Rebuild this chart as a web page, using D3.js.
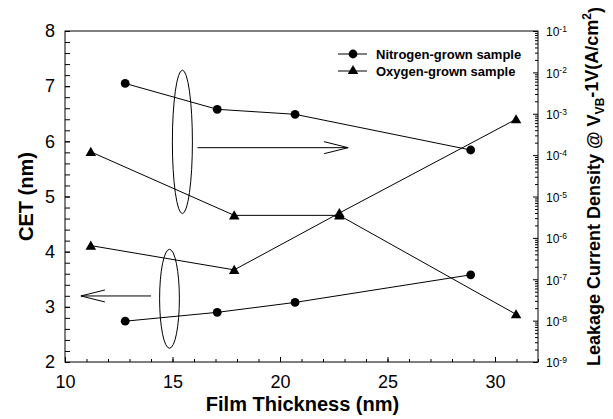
<!DOCTYPE html>
<html>
<head>
<meta charset="utf-8">
<script src="https://cdn.jsdelivr.net/npm/d3@7"></script>
<style>
  body { margin: 0; background: #fff; }
  svg { font-family: "Liberation Sans", Arial, sans-serif; }
</style>
</head>
<body>
<svg id="chart" width="613" height="419"></svg>
<script>
const WIDTH = 613
const HEIGHT = 419

// film thickness (nm)
const nitrogenThickness = [12.8, 17.08, 20.7, 28.87]
const oxygenThickness = [11.2, 17.87, 22.76, 30.98]
// CET (nm), left axis
const nitrogenCET = [2.74, 2.90, 3.08, 3.58]
const oxygenCET = [4.11, 3.67, 4.70, 6.40]
// leakage current density (A/cm2), right axis
const nitrogenLeakage = [5.4e-3, 1.28e-3, 9.7e-4, 1.33e-4]
const oxygenLeakage = [1.2e-4, 3.5e-6, 3.5e-6, 1.42e-8]

const seriesNames = ['Nitrogen-grown sample', 'Oxygen-grown sample']
const xTicks = [10, 15, 20, 25, 30]
const leftTicks = [2, 3, 4, 5, 6, 7, 8]
const rightExponents = [-9, -8, -7, -6, -5, -4, -3, -2, -1]

let padding = { left: 65, top: 31, right: 538, bottom: 362 }
const svg = d3.select('#chart')

const xAxis = d3.scaleLinear().domain([10, 32]).range([padding.left, padding.right])
const yLeft = d3.scaleLinear().domain([2, 8]).range([padding.bottom, padding.top])
const yRight = d3.scaleLog().domain([1e-9, 1e-1]).range([padding.bottom, padding.top])

// frame
svg.append('rect')
    .attr('x', padding.left).attr('y', padding.top)
    .attr('width', padding.right - padding.left)
    .attr('height', padding.bottom - padding.top)
    .attr('fill', 'none').attr('stroke', '#000').attr('stroke-width', 1)

function styleAxis(g, size) {
    g.select('.domain').remove()
    g.selectAll('line').attr('stroke', '#000')
    g.selectAll('text').attr('font-size', size).attr('fill', '#000')
    g.attr('font-family', null)
}

// bottom axis: minor + major
svg.append('g')
    .attr('transform', `translate(0, ${padding.bottom})`)
    .call(d3.axisBottom(xAxis).tickValues(d3.range(10, 33, 1)).tickSize(-3).tickFormat(''))
    .call(g => styleAxis(g, 18))
svg.append('g')
    .attr('transform', `translate(0, ${padding.bottom})`)
    .call(d3.axisBottom(xAxis).tickValues(xTicks).tickSize(-5).tickPadding(13))
    .call(g => styleAxis(g, 18))

// left axis
svg.append('g')
    .attr('transform', `translate(${padding.left}, 0)`)
    .call(d3.axisLeft(yLeft).tickValues(d3.range(0, 31).map(i => 2 + i * 0.2)).tickSize(-5).tickFormat(''))
    .call(g => styleAxis(g, 18))
svg.append('g')
    .attr('transform', `translate(${padding.left}, 0)`)
    .call(d3.axisLeft(yLeft).tickValues(leftTicks).tickSize(-5).tickPadding(10).tickFormat(d3.format('d')))
    .call(g => styleAxis(g, 18))

// right axis (log)
let minorLog = []
rightExponents.slice(0, -1).forEach(e => {
    for (let m = 2; m <= 9; m++) minorLog.push(m * Math.pow(10, e))
})
svg.append('g')
    .attr('transform', `translate(${padding.right}, 0)`)
    .call(d3.axisRight(yRight).tickValues(minorLog).tickSize(-3).tickFormat(''))
    .call(g => styleAxis(g, 12))
const rightG = svg.append('g')
    .attr('transform', `translate(${padding.right}, 0)`)
    .call(d3.axisRight(yRight).tickValues(rightExponents.map(e => Math.pow(10, e))).tickSize(-5).tickFormat(''))
    .call(g => styleAxis(g, 12))
rightG.selectAll('.tick')
    .append('text')
    .attr('x', 8).attr('dy', '0.4em')
    .attr('font-size', 12).attr('fill', '#000')
    .each(function (d) {
        const t = d3.select(this)
        t.append('tspan').text('10')
        t.append('tspan').attr('font-size', 8.5).attr('dy', '-0.5em')
            .text(String(Math.round(Math.log10(d))))
    })

// axis titles
svg.append('text')
    .text('Film Thickness (nm)')
    .attr('x', (padding.left + padding.right) / 2 + 1)
    .attr('y', 411)
    .attr('text-anchor', 'middle').attr('font-weight', 'bold').attr('font-size', 20)

svg.append('text')
    .text('CET (nm)')
    .attr('transform', `translate(33, ${(padding.top + padding.bottom) / 2}) rotate(-90)`)
    .attr('text-anchor', 'middle').attr('font-weight', 'bold').attr('font-size', 20)

const rTitle = svg.append('text')
    .attr('transform', `translate(600, ${(padding.top + padding.bottom) / 2 - 10}) rotate(-90)`)
    .attr('text-anchor', 'middle').attr('font-weight', 'bold').attr('font-size', 18)
rTitle.append('tspan').text('Leakage Current Density @ V')
rTitle.append('tspan').text('VB').attr('font-size', 12).attr('dy', '0.35em')
rTitle.append('tspan').text('-1V(A/cm').attr('dy', '-0.35em')
rTitle.append('tspan').text('2').attr('font-size', 12).attr('dy', '-0.55em')
rTitle.append('tspan').text(')').attr('dy', '0.55em')

// series
const series = [
    { x: nitrogenThickness, y: nitrogenCET, scale: yLeft, marker: 'circle' },
    { x: nitrogenThickness, y: nitrogenLeakage, scale: yRight, marker: 'circle' },
    { x: oxygenThickness, y: oxygenCET, scale: yLeft, marker: 'triangle' },
    { x: oxygenThickness, y: oxygenLeakage, scale: yRight, marker: 'triangle' }
]
const triangle = d3.symbol().type(d3.symbolTriangle).size(48)

series.forEach(s => {
    const pts = s.x.map((x, i) => [x, s.y[i]])
    svg.append('path')
        .attr('fill', 'none').attr('stroke', '#000').attr('stroke-width', 1)
        .attr('d', d3.line().x(d => xAxis(d[0])).y(d => s.scale(d[1]))(pts))
    if (s.marker === 'circle') {
        svg.selectAll(null).data(pts).join('circle')
            .attr('cx', d => xAxis(d[0])).attr('cy', d => s.scale(d[1]))
            .attr('r', 4.4).attr('fill', '#000')
    } else {
        svg.selectAll(null).data(pts).join('path')
            .attr('transform', d => `translate(${xAxis(d[0])}, ${s.scale(d[1]) + 1})`)
            .attr('d', triangle).attr('fill', '#000')
    }
})

// annotations: ellipses and arrows
function ellipse(cx, cy, rx, ry) {
    svg.append('ellipse')
        .attr('cx', xAxis(cx)).attr('cy', yLeft(cy))
        .attr('rx', xAxis(cx + rx) - xAxis(cx))
        .attr('ry', yLeft(cy - ry) - yLeft(cy))
        .attr('fill', 'none').attr('stroke', '#000').attr('stroke-width', 1)
}
function arrow(x1, x2, y) {
    const dir = x2 > x1 ? 1 : -1
    const tip = xAxis(x2), yy = yLeft(y)
    svg.append('path')
        .attr('fill', 'none').attr('stroke', '#000').attr('stroke-width', 1)
        .attr('d', `M${xAxis(x1)},${yy}H${tip}M${tip - dir * 24},${yy - 6}L${tip},${yy}L${tip - dir * 24},${yy + 6}`)
}
ellipse(15.46, 5.99, 0.466, 1.30)
arrow(16.16, 23.17, 5.885)
ellipse(14.86, 3.146, 0.46, 0.897)
arrow(14.0, 10.74, 3.197)

// legend
const legend = svg.append('g')
seriesNames.forEach((name, i) => {
    const y = 54 + i * 17
    legend.append('line').attr('x1', 338).attr('x2', 367).attr('y1', y).attr('y2', y)
        .attr('stroke', '#000').attr('stroke-width', 1)
    if (i === 0) {
        legend.append('circle').attr('cx', 353).attr('cy', y).attr('r', 4.4).attr('fill', '#000')
    } else {
        legend.append('path').attr('transform', `translate(353, ${y})`).attr('d', triangle).attr('fill', '#000')
    }
    legend.append('text').text(name)
        .attr('x', 376).attr('y', y).attr('dy', '0.35em')
        .attr('font-weight', 'bold').attr('font-size', 13)
})
</script>
</body>
</html>
